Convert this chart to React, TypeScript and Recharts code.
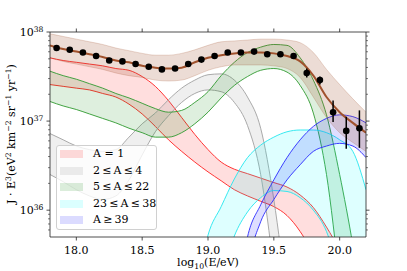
import React from "react"
import { ComposedChart, Area, Line, Scatter, ErrorBar, XAxis, YAxis, Label } from "recharts"

// model grid, log10(E/eV)
const logE = [17.8, 17.9, 18.0, 18.1, 18.2, 18.3, 18.4, 18.5, 18.6, 18.7, 18.8, 18.9, 19.0, 19.1, 19.2, 19.3, 19.4, 19.5, 19.6, 19.7, 19.8, 19.9, 20.0, 20.1, 20.2]

// model curves, stored as log10(J·E³)
const totalMid = [37.85, 37.81, 37.78, 37.75, 37.72, 37.68, 37.66, 37.62, 37.60, 37.59, 37.60, 37.66, 37.71, 37.74, 37.76, 37.77, 37.77, 37.76, 37.73, 37.67, 37.51, 37.27, 37.10, 36.98, 36.87]
const totalHi = [37.98, 37.95, 37.92, 37.89, 37.86, 37.82, 37.79, 37.76, 37.74, 37.74, 37.76, 37.80, 37.85, 37.89, 37.90, 37.91, 37.92, 37.92, 37.91, 37.88, 37.77, 37.58, 37.41, 37.25, 37.10]
const totalLo = [37.71, 37.67, 37.64, 37.61, 37.58, 37.54, 37.51, 37.49, 37.46, 37.45, 37.46, 37.51, 37.57, 37.61, 37.63, 37.63, 37.63, 37.62, 37.59, 37.49, 37.27, 37.04, 36.87, 36.76, 36.66]

const protonHi = [37.71, 37.68, 37.66, 37.64, 37.62, 37.59, 37.57, 37.50, 37.39, 37.23, 37.04, 36.85, 36.68, 36.54, 36.46, 36.41, 36.36, 36.31, 36.26, 36.17, 36.03, 35.81, 35.55, 35.22, 34.77]
const protonLo = [37.41, 37.39, 37.37, 37.35, 37.31, 37.27, 37.19, 37.08, 36.94, 36.79, 36.66, 36.54, 36.43, 36.33, 36.23, 36.16, 36.10, 36.04, 35.94, 35.76, 35.50, 35.10, 34.54, 34.0, 33.5]

const heliumHi = [36.86, 36.79, 36.72, 36.68, 36.66, 36.68, 36.82, 36.97, 37.09, 37.24, 37.37, 37.46, 37.52, 37.53, 37.46, 37.27, 36.92, 36.12, 34.99, null, null, null, null, null, null]
const heliumLo = [36.40, 36.32, 36.23, 36.16, 36.12, 36.16, 36.34, 36.62, 36.88, 37.06, 37.21, 37.31, 37.35, 37.33, 37.21, 36.95, 36.40, 35.33, 34.0, null, null, null, null, null, null]

const nitrogenHi = [37.56, 37.51, 37.47, 37.42, 37.37, 37.31, 37.26, 37.20, 37.14, 37.10, 37.12, 37.21, 37.33, 37.51, 37.66, 37.77, 37.83, 37.86, 37.85, 37.71, 37.46, 37.07, 36.40, 35.61, 34.66]
const nitrogenLo = [37.22, 37.17, 37.13, 37.08, 37.03, 36.98, 36.92, 36.87, 36.82, 36.82, 36.87, 36.97, 37.10, 37.26, 37.40, 37.50, 37.57, 37.59, 37.55, 37.40, 37.09, 36.40, 35.22, 34.0, 33.0]

const siliconHi = [null, null, null, null, null, null, null, null, null, null, null, 35.0, 35.72, 36.04, 36.35, 36.59, 36.73, 36.82, 36.88, 36.90, 36.90, 36.87, 36.79, 36.66, 36.23]
const siliconLo = [null, null, null, null, null, null, null, null, null, null, null, 34.0, 34.5, 35.25, 35.71, 35.98, 36.14, 36.22, 36.21, 36.14, 36.00, 35.76, 35.27, 34.66, 34.0]

const ironHi = [null, null, null, null, null, null, null, null, null, null, null, null, null, null, 34.8, 35.70, 36.06, 36.34, 36.59, 36.79, 36.94, 37.03, 37.07, 37.05, 36.98]
const ironLo = [null, null, null, null, null, null, null, null, null, null, null, null, null, null, 34.0, 35.33, 35.87, 36.12, 36.34, 36.51, 36.66, 36.72, 36.75, 36.72, 36.59]

// measured points
const dataE = [17.85, 17.95, 18.05, 18.15, 18.25, 18.35, 18.45, 18.55, 18.65, 18.75, 18.85, 18.95, 19.05, 19.15, 19.25, 19.35, 19.45, 19.55, 19.65, 19.75, 19.85, 19.95, 20.05, 20.15]
const dataJ = [37.82, 37.80, 37.77, 37.73, 37.68, 37.67, 37.64, 37.61, 37.58, 37.59, 37.64, 37.69, 37.73, 37.77, 37.77, 37.78, 37.75, 37.75, 37.73, 37.54, 37.46, 37.10, 36.89, 36.92]
const errUp = [0.01, 0.01, 0.01, 0.01, 0.01, 0.01, 0.01, 0.01, 0.01, 0.01, 0.01, 0.01, 0.01, 0.01, 0.01, 0.01, 0.015, 0.015, 0.02, 0.05, 0.04, 0.13, 0.16, 0.20]
const errDown = [0.01, 0.01, 0.01, 0.01, 0.01, 0.01, 0.01, 0.01, 0.01, 0.01, 0.01, 0.01, 0.01, 0.01, 0.01, 0.01, 0.015, 0.015, 0.02, 0.05, 0.05, 0.11, 0.20, 0.22]

const xTicks = [18.0, 18.5, 19.0, 19.5, 20.0]
const majorExp = [36, 37, 38]
const minorMult = [2, 3, 4, 5, 6, 7, 8, 9]

const AXIS = "#222"
const FONT = "'DejaVu Serif', serif"

const pow = (v: number | null) => (v == null ? null : Math.pow(10, v))
const range = (lo: (number | null)[], hi: (number | null)[], i: number) =>
  lo[i] == null || hi[i] == null ? null : [pow(lo[i]), pow(hi[i])]

const rows = logE.map((x, i) => ({
  x,
  total: pow(totalMid[i]),
  totalBand: range(totalLo, totalHi, i),
  proton: range(protonLo, protonHi, i),
  helium: range(heliumLo, heliumHi, i),
  nitrogen: range(nitrogenLo, nitrogenHi, i),
  silicon: range(siliconLo, siliconHi, i),
  iron: range(ironLo, ironHi, i),
}))

const points = dataE.map((x, i) => {
  const y = Math.pow(10, dataJ[i])
  return {
    x,
    y,
    err: [y - Math.pow(10, dataJ[i] - errDown[i]), Math.pow(10, dataJ[i] + errUp[i]) - y],
  }
})

const yTicks: number[] = []
;[35, 36, 37].forEach((e) => {
  minorMult.forEach((m) => {
    const v = m * Math.pow(10, e)
    if (v > 5.5e35) yTicks.push(v)
  })
})
majorExp.forEach((e) => yTicks.push(Math.pow(10, e)))
yTicks.sort((a, b) => a - b)

const bands = [
  { key: "proton", name: "A = 1", stroke: "#ff2020", fill: "#ff0000" },
  { key: "helium", name: "2\u2009≤\u2009A\u2009≤\u20094", stroke: "#a0a0a0", fill: "#808080" },
  { key: "nitrogen", name: "5\u2009≤\u2009A\u2009≤\u200922", stroke: "#2f9a2f", fill: "#008000" },
  { key: "silicon", name: "23\u2009≤\u2009A\u2009≤\u200938", stroke: "#22e6ee", fill: "#00ffff" },
  { key: "iron", name: "A\u2009≥\u200939", stroke: "#2a2aff", fill: "#0000ff" },
]

function XTick(props: any) {
  const { x, y, payload, side } = props
  const top = side === "top"
  return (
    <g>
      <line x1={x} x2={x} y1={y} y2={top ? y - 3.5 : y + 3.5} stroke={AXIS} strokeWidth={0.8} />
      {!top && (
        <text x={x} y={y + 17} textAnchor="middle" fontFamily={FONT} fontSize={11} fill="#000">
          {Number(payload.value).toFixed(1)}
        </text>
      )}
    </g>
  )
}

function YTick(props: any) {
  const { x, y, payload, side } = props
  const lg = Math.log10(payload.value)
  const e = Math.round(lg)
  const major = Math.abs(lg - e) < 1e-6
  const len = major ? 3.5 : 2
  const dir = side === "right" ? 1 : -1
  return (
    <g>
      <line x1={x} x2={x + dir * len} y1={y} y2={y} stroke={AXIS} strokeWidth={major ? 0.8 : 0.6} />
      {major && side !== "right" && (
        <text x={x - 6.5} y={y + 4} textAnchor="end" fontFamily={FONT} fontSize={11} fill="#000">
          10<tspan dy={-4.5} fontSize={7.7}>{e}</tspan>
        </text>
      )}
    </g>
  )
}

const XLabel = () => (
  <text x={208} y={266} textAnchor="middle" fontFamily={FONT} fontSize={11} fill="#000">
    log<tspan dy={2.5} fontSize={7.7}>10</tspan>
    <tspan dy={-2.5}>(E/eV)</tspan>
  </text>
)

const sup = (s: string) => (
  <>
    <tspan dy={-4.5} fontSize={7.7}>{s}</tspan>
  </>
)

const YLabel = () => (
  <text transform="translate(15,134) rotate(-90)" textAnchor="middle" fontFamily={FONT} fontSize={11} fill="#000">
    J · E{sup("3")}
    <tspan dy={4.5}>(eV</tspan>
    {sup("2")}
    <tspan dy={4.5}> km</tspan>
    {sup("−2")}
    <tspan dy={4.5}> sr</tspan>
    {sup("−1")}
    <tspan dy={4.5}> yr</tspan>
    {sup("−1")}
    <tspan dy={4.5}>)</tspan>
  </text>
)

const Dot = (p: any) => <circle cx={p.cx} cy={p.cy} r={3.3} fill="#000" />

export default function App() {
  return (
    <div style={{ position: "absolute", left: 0, top: 0, width: 407, height: 271, background: "#fff" }}>
      <ComposedChart width={407} height={271} data={rows} margin={{ top: 0, right: 0, bottom: 0, left: 0 }}>
        <XAxis
          xAxisId="b"
          dataKey="x"
          type="number"
          domain={[17.8, 20.2]}
          allowDataOverflow
          ticks={xTicks}
          interval={0}
          height={34}
          tickSize={0}
          tickMargin={0}
          tickLine={false}
          axisLine={{ stroke: AXIS, strokeWidth: 0.8 }}
          tick={(p: any) => <XTick {...p} side="bottom" />}
        >
          <Label content={XLabel} />
        </XAxis>
        <XAxis
          xAxisId="t"
          orientation="top"
          dataKey="x"
          type="number"
          domain={[17.8, 20.2]}
          allowDataOverflow
          ticks={xTicks}
          interval={0}
          height={32}
          tickSize={0}
          tickMargin={0}
          tickLine={false}
          axisLine={{ stroke: AXIS, strokeWidth: 0.8 }}
          tick={(p: any) => <XTick {...p} side="top" />}
        />
        <YAxis
          yAxisId="l"
          type="number"
          scale="log"
          domain={[5e35, 1e38]}
          allowDataOverflow
          ticks={yTicks}
          interval={0}
          width={50}
          tickSize={0}
          tickMargin={0}
          tickLine={false}
          axisLine={{ stroke: AXIS, strokeWidth: 0.8 }}
          tick={(p: any) => <YTick {...p} side="left" />}
        >
          <Label content={YLabel} />
        </YAxis>
        <YAxis
          yAxisId="r"
          orientation="right"
          type="number"
          scale="log"
          domain={[5e35, 1e38]}
          allowDataOverflow
          ticks={yTicks}
          interval={0}
          width={41}
          tickSize={0}
          tickMargin={0}
          tickLine={false}
          axisLine={{ stroke: AXIS, strokeWidth: 0.8 }}
          tick={(p: any) => <YTick {...p} side="right" />}
        />

        {bands.map((b) => (
          <Area
            key={b.key}
            xAxisId="b"
            yAxisId="l"
            type="monotone"
            dataKey={b.key}
            stroke={b.stroke}
            strokeWidth={0.9}
            fill={b.fill}
            fillOpacity={0.13}
            dot={false}
            activeDot={false}
            isAnimationActive={false}
          />
        ))}
        <Area
          xAxisId="b"
          yAxisId="l"
          type="monotone"
          dataKey="totalBand"
          stroke="#a0522d"
          strokeOpacity={0.25}
          strokeWidth={0.9}
          fill="#a0522d"
          fillOpacity={0.2}
          dot={false}
          activeDot={false}
          isAnimationActive={false}
        />
        <Line
          xAxisId="b"
          yAxisId="l"
          type="monotone"
          dataKey="total"
          stroke="#a0522d"
          strokeWidth={2}
          dot={false}
          activeDot={false}
          isAnimationActive={false}
        />
        <Line
          xAxisId="t"
          yAxisId="r"
          dataKey="total"
          stroke="none"
          dot={false}
          activeDot={false}
          isAnimationActive={false}
        />
        <Scatter xAxisId="b" yAxisId="l" data={points} dataKey="y" shape={Dot} isAnimationActive={false}>
          <ErrorBar dataKey="err" direction="y" width={0} stroke="#000" strokeWidth={1.5} />
        </Scatter>
      </ComposedChart>

      <div
        style={{
          position: "absolute",
          left: 56,
          top: 145,
          width: 101,
          height: 85,
          boxSizing: "border-box",
          border: "1px solid #d0d0d0",
          borderRadius: 3,
          background: "rgba(255,255,255,0.8)",
          fontFamily: FONT,
          fontSize: 11,
          color: "#000",
        }}
      >
        {bands.map((b, i) => (
          <div
            key={b.key}
            style={{ position: "absolute", left: 3, top: 2 + i * 16.5, height: 12, display: "flex", alignItems: "center", whiteSpace: "nowrap" }}
          >
            <span style={{ display: "inline-block", width: 23, height: 8, background: b.fill, opacity: 0.14 }} />
            <span style={{ marginLeft: 10, lineHeight: "12px" }}>{b.name}</span>
          </div>
        ))}
      </div>
    </div>
  )
}
